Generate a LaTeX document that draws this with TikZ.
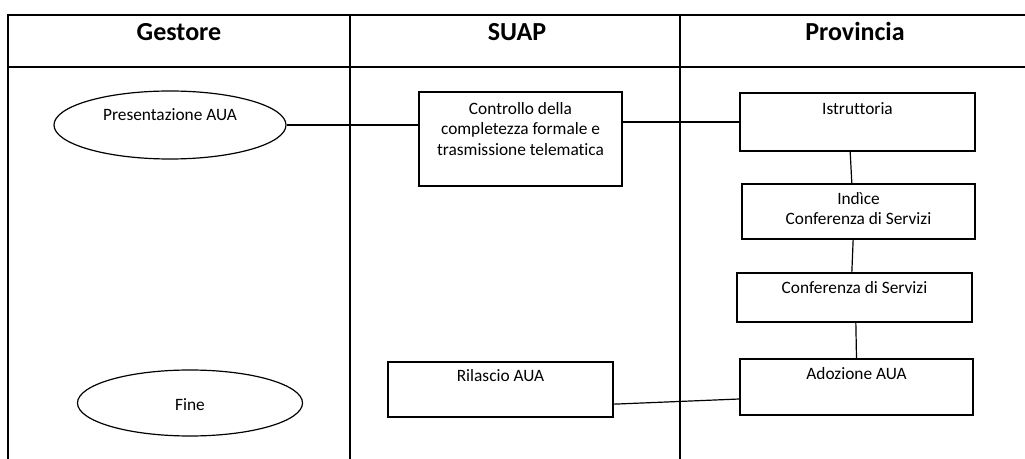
\documentclass[tikz,border=0pt]{standalone}
\usepackage{fontspec}
\setmainfont{Carlito}[Ligatures=NoCommon]
\usetikzlibrary{shapes.geometric}
\begin{document}
\begin{tikzpicture}[x=0.75pt,y=-0.75pt,
  frame/.style={line width=1.5pt},
  box/.style={draw,line width=0.9pt,rectangle,inner sep=0pt},
  oval/.style={draw,line width=0.9pt,ellipse,inner sep=0pt},
  txt/.style={font=\fontsize{13}{15.3}\selectfont,align=center,inner sep=0pt},
  head/.style={font=\fontsize{19.5}{22}\selectfont\bfseries,anchor=base,inner sep=0pt},
  conn/.style={line width=0.9pt}]
\useasboundingbox (0,0) rectangle (1025,459);
% table
\draw[frame] (8,459) -- (8,15) -- (1026,15);
\draw[frame] (8,67) -- (1026,67);
\draw[frame] (350,15) -- (350,459);
\draw[frame] (680,15) -- (680,459);
\node[head] (hg) at (179,41) {Gestore};
\node[head] (hs) at (517,41) {SUAP};
\node[head] (hp) at (855,41) {Provincia};
% nodes
\node[oval,minimum width=232*0.75pt,minimum height=68*0.75pt] (pres) at (170,125) {};
\node[txt] (prest) at (170,115) {Presentazione AUA};
\node[oval,minimum width=225*0.75pt,minimum height=66*0.75pt] (fine) at (190,403) {};
\node[txt] (finet) at (190,405) {Fine};
\node[box,minimum width=203*0.75pt,minimum height=94*0.75pt] (ctrl) at (520.5,139) {};
\node[txt,anchor=north] (ctrlt) at (520.5,102) {Controllo della\\completezza formale e\\trasmissione telematica};
\node[box,minimum width=235*0.75pt,minimum height=58*0.75pt] (ist) at (857.5,122) {};
\node[txt,anchor=north] (istt) at (857.5,102) {Istruttoria};
\node[box,minimum width=233*0.75pt,minimum height=55*0.75pt] (ind) at (858.5,211.5) {};
\node[txt,anchor=north] (indt) at (858.5,192) {Indìce\\Conferenza di Servizi};
\node[box,minimum width=235*0.75pt,minimum height=49*0.75pt] (conf) at (854.5,297.5) {};
\node[txt,anchor=north] (conft) at (854.5,281) {Conferenza di Servizi};
\node[box,minimum width=233*0.75pt,minimum height=56*0.75pt] (adoz) at (856.5,387) {};
\node[txt,anchor=north] (adozt) at (856.5,367) {Adozione AUA};
\node[box,minimum width=225*0.75pt,minimum height=55*0.75pt] (ril) at (500.5,389.5) {};
\node[txt,anchor=north] (rilt) at (500.5,369) {Rilascio AUA};
% connectors
\draw[conn] (pres.east) -- (pres.east -| ctrl.west);
\draw[conn] (ist.west -| ctrl.east) -- (ist.west);
\draw[conn] ([xshift=-5.5pt]ist.south) -- ([xshift=-5pt]ind.north);
\draw[conn] ([xshift=-4pt]ind.south) -- ([xshift=-2pt]conf.north);
\draw[conn] ([xshift=1pt]conf.south) -- (adoz.north);
\draw[conn] ([yshift=-11pt]ril.east) -- ([yshift=-9pt]adoz.west);
\end{tikzpicture}
\end{document}
